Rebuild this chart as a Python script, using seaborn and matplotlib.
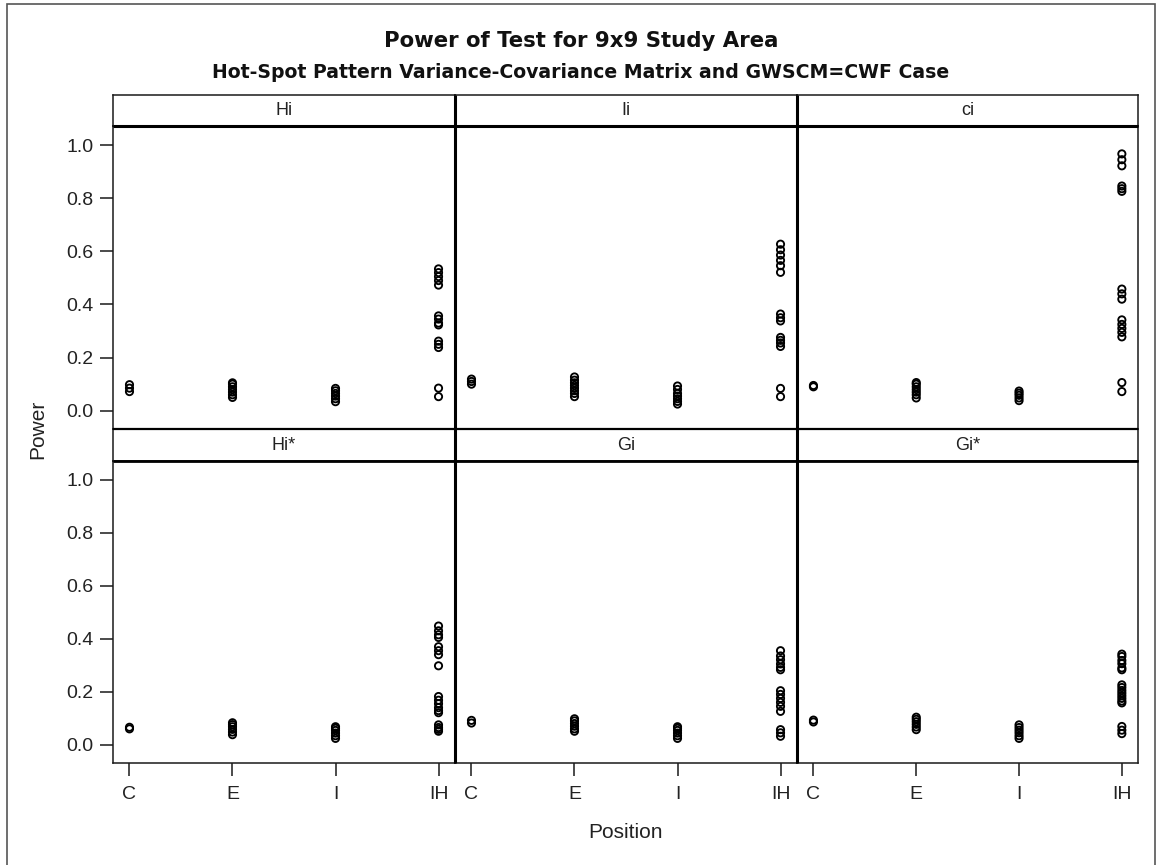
import numpy as np
import pandas as pd
import matplotlib
matplotlib.use("Agg")
import matplotlib.pyplot as plt
import seaborn as sns
from matplotlib.lines import Line2D
from matplotlib.patches import Rectangle

# ---------------- data ----------------
positions = ["C", "E", "I", "IH"]
stats = ["Hi", "Ii", "ci", "Hi*", "Gi", "Gi*"]

hi_power = [
    [0.072, 0.085, 0.098],
    [0.050, 0.060, 0.070, 0.080, 0.090, 0.100, 0.105],
    [0.034, 0.045, 0.055, 0.065, 0.075, 0.084],
    [0.534, 0.520, 0.505, 0.490, 0.473, 0.357, 0.345, 0.330, 0.323,
     0.262, 0.250, 0.238, 0.085, 0.053],
]
ii_power = [
    [0.100, 0.110, 0.119],
    [0.053, 0.065, 0.075, 0.085, 0.095, 0.105, 0.115, 0.127],
    [0.025, 0.035, 0.045, 0.055, 0.065, 0.080, 0.093],
    [0.627, 0.606, 0.586, 0.566, 0.546, 0.521, 0.364, 0.350, 0.338,
     0.276, 0.265, 0.255, 0.242, 0.084, 0.053],
]
ci_power = [
    [0.090, 0.095],
    [0.048, 0.060, 0.070, 0.080, 0.090, 0.100, 0.106],
    [0.038, 0.048, 0.058, 0.066, 0.074],
    [0.967, 0.945, 0.922, 0.846, 0.836, 0.826, 0.458, 0.440, 0.420,
     0.342, 0.325, 0.310, 0.295, 0.278, 0.106, 0.072],
]
histar_power = [
    [0.060, 0.066],
    [0.038, 0.048, 0.058, 0.068, 0.076, 0.083],
    [0.024, 0.034, 0.044, 0.054, 0.062, 0.068],
    [0.448, 0.430, 0.415, 0.405, 0.370, 0.355, 0.340, 0.298,
     0.182, 0.168, 0.155, 0.140, 0.129, 0.121, 0.075, 0.065, 0.058, 0.051],
]
gi_power = [
    [0.082, 0.092],
    [0.051, 0.060, 0.070, 0.080, 0.090, 0.098],
    [0.024, 0.034, 0.044, 0.054, 0.062, 0.068],
    [0.355, 0.335, 0.321, 0.305, 0.292, 0.283,
     0.204, 0.190, 0.175, 0.160, 0.145, 0.126, 0.057, 0.045, 0.032],
]
gistar_power = [
    [0.086, 0.093],
    [0.057, 0.067, 0.077, 0.087, 0.096, 0.104],
    [0.024, 0.034, 0.045, 0.055, 0.065, 0.075],
    [0.342, 0.333, 0.318, 0.306, 0.290, 0.283,
     0.226, 0.216, 0.205, 0.195, 0.185, 0.175, 0.165, 0.158,
     0.069, 0.055, 0.042],
]
yticks = [0.0, 0.2, 0.4, 0.6, 0.8, 1.0]

all_power = [hi_power, ii_power, ci_power, histar_power, gi_power, gistar_power]
rows = []
for s, groups in zip(stats, all_power):
    for p, vals in zip(positions, groups):
        for v in vals:
            rows.append((s, p, v))
df = pd.DataFrame(rows, columns=["Statistic", "Position", "Power"])

# ---------------- style ----------------
sns.set_style("white")
plt.rcParams["font.family"] = ["Liberation Sans", "DejaVu Sans"]

W, H = 1157, 865
fig = plt.figure(figsize=(W / 100, H / 100), dpi=100)
fig.patch.set_facecolor("white")


def fbox(x0, y0, x1, y1):
    return [x0 / W, 1 - y1 / H, (x1 - x0) / W, (y1 - y0) / H]


col_x = [(113, 455), (455, 797), (797, 1138.3)]
row_plot = [(126, 429.3), (460.7, 763.3)]
row_head = [(94.7, 126), (429.3, 460.7)]

edge = "#1a1a1a"
for i, s in enumerate(stats):
    r, c = divmod(i, 3)
    x0, x1 = col_x[c]
    y0, y1 = row_plot[r]
    ax = fig.add_axes(fbox(x0, y0, x1, y1))
    sub = df[df["Statistic"] == s]
    sns.stripplot(data=sub, x="Position", y="Power", order=positions,
                  jitter=False, color="black", size=5.2, marker="o",
                  linewidth=0, ax=ax, zorder=3)
    for coll in ax.collections:
        coll.set_facecolor("none")
        coll.set_edgecolor("black")
        coll.set_linewidth(1.35)
    ax.set_xlim(-0.16, 3.16)
    ax.set_ylim(-0.07, 1.072)
    ax.set_yticks(yticks)
    ax.set_xlabel("")
    ax.set_ylabel("")
    for sp in ax.spines.values():
        sp.set_linewidth(1.1)
        sp.set_color(edge)
    ax.tick_params(axis="both", which="both", direction="out", length=9.5,
                   width=1.1, color=edge, labelsize=14, labelcolor="#222")
    ax.tick_params(axis="y", pad=4.5)
    ax.tick_params(axis="x", pad=7)
    if c == 0:
        ax.set_yticklabels([f"{t:.1f}" for t in yticks])
        ax.tick_params(axis="y", left=True)
    else:
        ax.tick_params(axis="y", left=False, labelleft=False)
    if r == 1:
        ax.tick_params(axis="x", bottom=True)
    else:
        ax.tick_params(axis="x", bottom=False, labelbottom=False)

    # header strip
    hy0, hy1 = row_head[r]
    hax = fig.add_axes(fbox(x0, hy0, x1, hy1))
    hax.set_xticks([])
    hax.set_yticks([])
    for sp in hax.spines.values():
        sp.set_linewidth(1.1)
        sp.set_color(edge)
    hax.text(0.5, 0.5, s, ha="center", va="center", fontsize=13,
             color="#222", transform=hax.transAxes)

# thick separators
def hline(y, x0, x1, lw):
    fig.add_artist(Line2D([x0 / W, x1 / W], [1 - y / H, 1 - y / H],
                          color="black", lw=lw, transform=fig.transFigure,
                          solid_capstyle="butt", zorder=10))


def vline(x, y0, y1, lw):
    fig.add_artist(Line2D([x / W, x / W], [1 - y0 / H, 1 - y1 / H],
                          color="black", lw=lw, transform=fig.transFigure,
                          solid_capstyle="butt", zorder=10))


hline(126, 113, 1138.3, 2.2)
hline(460.7, 113, 1138.3, 2.0)
hline(429.3, 113, 1138.3, 1.6)
vline(455, 94.7, 763.3, 2.2)
vline(797, 94.7, 763.3, 2.2)

# titles
fig.text(581 / W, 1 - 41 / H, "Power of Test for 9x9 Study Area",
         ha="center", va="center", fontsize=15.3, fontweight="bold",
         color="#111", family="DejaVu Sans")
fig.text(581 / W, 1 - 72 / H,
         "Hot-Spot Pattern Variance-Covariance Matrix and GWSCM=CWF Case",
         ha="center", va="center", fontsize=13.6, fontweight="bold",
         color="#111", family="DejaVu Sans")
fig.text(38 / W, 1 - 429 / H, "Power", rotation=90, ha="center", va="center",
         fontsize=15, color="#222")
fig.text(0.5 * (113 + 1138.3) / W, 1 - 832 / H, "Position", ha="center",
         va="center", fontsize=15, color="#222")

# outer frame of the image
fig.add_artist(Rectangle((6.5 / W, -0.02), (1155 - 6.5) / W, 1 - 4 / H + 0.02,
                         transform=fig.transFigure, fill=False,
                         edgecolor="#555555", lw=1.2, zorder=0))

fig.savefig("out.png", dpi=100, facecolor="white")
